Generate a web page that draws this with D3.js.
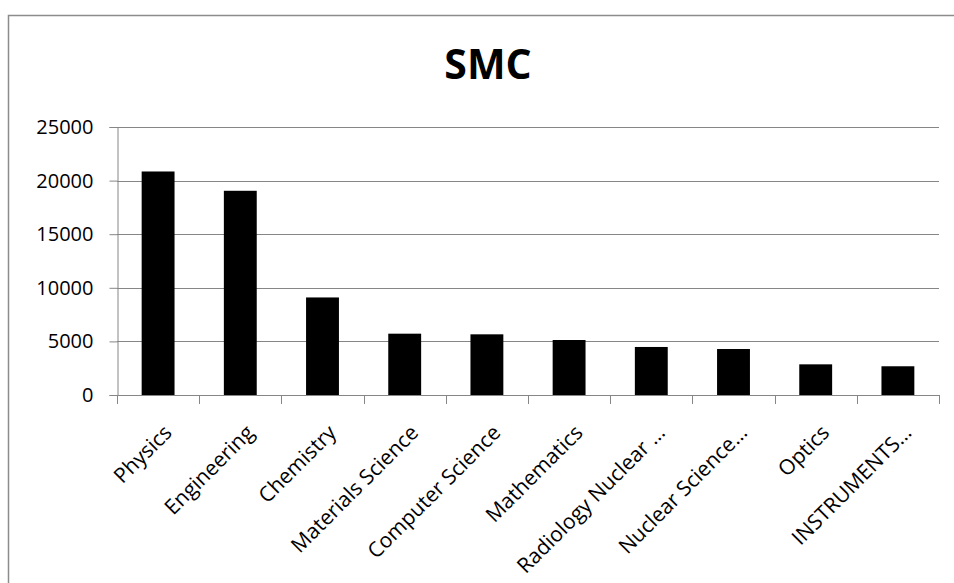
<!DOCTYPE html>
<html>
<head>
<meta charset="utf-8">
<script src="https://cdn.jsdelivr.net/npm/d3@7"></script>
<style>
  html, body { margin: 0; padding: 0; background: #fff; }
  svg { display: block; font-family: "Open Sans", "DejaVu Sans", sans-serif; }
</style>
</head>
<body>
<svg id="chart" width="954" height="583"></svg>
<script>
// SMC publication counts by subject area
const categories = [
  "Physics", "Engineering", "Chemistry", "Materials Science", "Computer Science",
  "Mathematics", "Radiology Nuclear …", "Nuclear Science…", "Optics", "INSTRUMENTS…"
];
const counts = [20850, 19050, 9100, 5720, 5660, 5130, 4480, 4290, 2860, 2680];
const yTicks = [0, 5000, 10000, 15000, 20000, 25000];
const chartTitle = "SMC";

const svg = d3.select("#chart");
const W = 954, H = 583;
const plot = { left: 117, right: 939, top: 127, bottom: 395 };

// chart frame
svg.append("rect")
  .attr("x", 8.5).attr("y", 15.5)
  .attr("width", W).attr("height", H)
  .attr("fill", "none").attr("stroke", "#8c8c8c").attr("stroke-width", 1.5);

const x = d3.scaleBand()
  .domain(categories)
  .range([plot.left, plot.right])
  .paddingInner(0.6).paddingOuter(0.3);

const y = d3.scaleLinear().domain([0, 25000]).range([plot.bottom, plot.top]);

// horizontal gridlines
svg.append("g")
  .selectAll("line")
  .data(yTicks.filter(t => t > 0))
  .join("line")
  .attr("x1", plot.left).attr("x2", plot.right)
  .attr("y1", d => Math.round(y(d)) + 0.5).attr("y2", d => Math.round(y(d)) + 0.5)
  .attr("stroke", "#868686").attr("stroke-width", 1);

// y axis
const yAxis = svg.append("g")
  .attr("transform", `translate(${plot.left + 0.5},0)`)
  .call(d3.axisLeft(y).tickValues(yTicks).tickSize(8).tickPadding(16).tickFormat(d3.format("d")));
yAxis.select(".domain").attr("stroke", "#868686");
yAxis.selectAll(".tick line").attr("stroke", "#868686");
yAxis.selectAll(".tick text")
  .attr("fill", "#000").attr("font-size", 20)
  .attr("font-family", "'Open Sans', sans-serif");

// bars
svg.append("g")
  .selectAll("rect")
  .data(categories.map((c, i) => ({ c, v: counts[i] })))
  .join("rect")
  .attr("x", d => x(d.c))
  .attr("width", x.bandwidth())
  .attr("y", d => y(d.v))
  .attr("height", d => y(0) - y(d.v))
  .attr("fill", "#000");

// x axis with ticks at category boundaries
const step = (plot.right - plot.left) / categories.length;
const xg = svg.append("g");
xg.append("line")
  .attr("x1", plot.left).attr("x2", plot.right)
  .attr("y1", plot.bottom + 0.5).attr("y2", plot.bottom + 0.5)
  .attr("stroke", "#868686");
xg.selectAll("line.tk")
  .data(d3.range(categories.length + 1))
  .join("line")
  .attr("class", "tk")
  .attr("x1", i => Math.round(plot.left + i * step) + 0.5)
  .attr("x2", i => Math.round(plot.left + i * step) + 0.5)
  .attr("y1", plot.bottom).attr("y2", plot.bottom + 9)
  .attr("stroke", "#868686");

// rotated category labels
xg.selectAll("text")
  .data(categories)
  .join("text")
  .attr("transform", d => `translate(${x(d) + x.bandwidth() / 2 + 15},${plot.bottom + 39}) rotate(-45)`)
  .attr("text-anchor", "end")
  .attr("font-size", 21)
  .attr("fill", "#000")
  .text(d => d);

// title
svg.append("text")
  .attr("x", 488).attr("y", 79)
  .attr("text-anchor", "middle")
  .attr("font-size", 41).attr("font-weight", "bold")
  .attr("fill", "#000")
  .text(chartTitle);
</script>
</body>
</html>
